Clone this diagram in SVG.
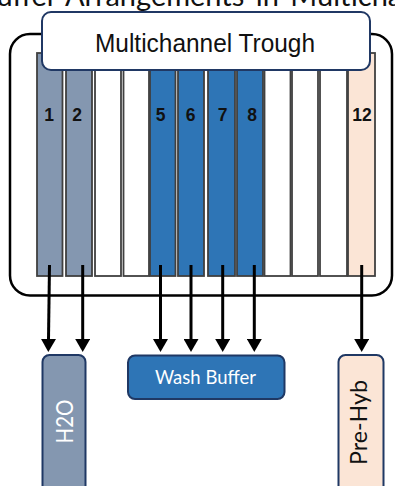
<svg xmlns="http://www.w3.org/2000/svg" width="395" height="486" viewBox="0 0 395 486">
<style>
.col{stroke:#404040;stroke-width:1.8}
.gray{fill:#8497b0}
.blue{fill:#2e75b6}
.peach{fill:#fbe5d6}
.white{fill:#ffffff}
.num{font-family:"Liberation Sans",Arial,sans-serif;font-weight:bold;font-size:17.5px;fill:#111;text-anchor:middle}
.box{stroke:#1f3864;stroke-width:2}
.lbl{font-family:Lato,"Open Sans",sans-serif;text-anchor:middle}
.arr{stroke:#000;stroke-width:3;fill:none;marker-end:url(#ah)}
</style>
<defs>
<marker id="ah" markerUnits="userSpaceOnUse" markerWidth="13" markerHeight="15" viewBox="0 0 13 15" refX="0" refY="7.5" orient="auto">
<path d="M0,0 L13,7.5 L0,15 z" fill="#000"/>
</marker>
</defs>
<rect width="395" height="486" fill="#fff"/>
<text y="6" font-family="Lato,'Open Sans',sans-serif" font-size="29" fill="#111" word-spacing="4"><tspan x="-22">Buffer</tspan><tspan x="65">Arrangements in Multichannel Trough</tspan></text>
<g id="trough">
<rect x="10" y="34" width="382" height="261.5" rx="20" fill="#fff" stroke="#000" stroke-width="2.5"/>
</g>
<g id="channels">
<rect class="col gray" x="37" y="53" width="25.5" height="223"/>
<rect class="col gray" x="66" y="53" width="26" height="223"/>
<rect class="col white" x="95" y="53" width="26" height="223"/>
<rect class="col white" x="123.5" y="53" width="25.5" height="223"/>
<rect class="col blue" x="150" y="53" width="25.5" height="223"/>
<rect class="col blue" x="178" y="53" width="26" height="223"/>
<rect class="col blue" x="208" y="53" width="27" height="223"/>
<rect class="col blue" x="237" y="53" width="26" height="223"/>
<rect class="col white" x="264.5" y="53" width="26" height="223"/>
<rect class="col white" x="292" y="53" width="26" height="223"/>
<rect class="col white" x="320" y="53" width="27" height="223"/>
<rect class="col peach" x="348" y="53" width="27" height="223"/>
<text class="num" x="49" y="121">1</text>
<text class="num" x="77" y="121">2</text>
<text class="num" x="160.5" y="121">5</text>
<text class="num" x="190.5" y="121">6</text>
<text class="num" x="222.5" y="121">7</text>
<text class="num" x="252" y="121">8</text>
<text class="num" x="362" y="121">12</text>
</g>
<g id="title">
<rect x="42" y="12" width="328" height="58" rx="9" fill="#fff" stroke="#203864" stroke-width="2"/>
<text x="205" y="52" font-family="'Liberation Sans',Arial,sans-serif" font-size="26.5" fill="#111" text-anchor="middle" textLength="220" lengthAdjust="spacingAndGlyphs">Multichannel  Trough</text>
</g>
<g id="connectors">
<line class="arr" x1="49.5" y1="265" x2="48.5" y2="339"/>
<line class="arr" x1="82.7" y1="265" x2="82.7" y2="339"/>
<line class="arr" x1="160.5" y1="265" x2="160.5" y2="339"/>
<line class="arr" x1="191" y1="265" x2="191" y2="339"/>
<line class="arr" x1="222.7" y1="265" x2="222.7" y2="339"/>
<line class="arr" x1="254.3" y1="265" x2="254.3" y2="339"/>
<line class="arr" x1="361.7" y1="265" x2="361.7" y2="339"/>
</g>
<g id="h2o">
<rect class="box gray" x="42.5" y="355" width="43" height="150" rx="7"/>
<text class="lbl" transform="translate(73,421.5) rotate(-90)" font-size="24" fill="#fff" textLength="44" lengthAdjust="spacingAndGlyphs">H2O</text>
</g>
<g id="wash">
<rect class="box blue" x="128" y="355.5" width="156.5" height="43.5" rx="7"/>
<text class="lbl" x="205.5" y="384" font-size="20" fill="#fff" textLength="101" lengthAdjust="spacingAndGlyphs">Wash Buffer</text>
</g>
<g id="prehyb">
<rect class="box peach" x="338.5" y="355" width="45" height="150" rx="7"/>
<text class="lbl" transform="translate(367,422.5) rotate(-90)" font-size="24" fill="#111" textLength="85" lengthAdjust="spacingAndGlyphs">Pre-Hyb</text>
</g>
</svg>
